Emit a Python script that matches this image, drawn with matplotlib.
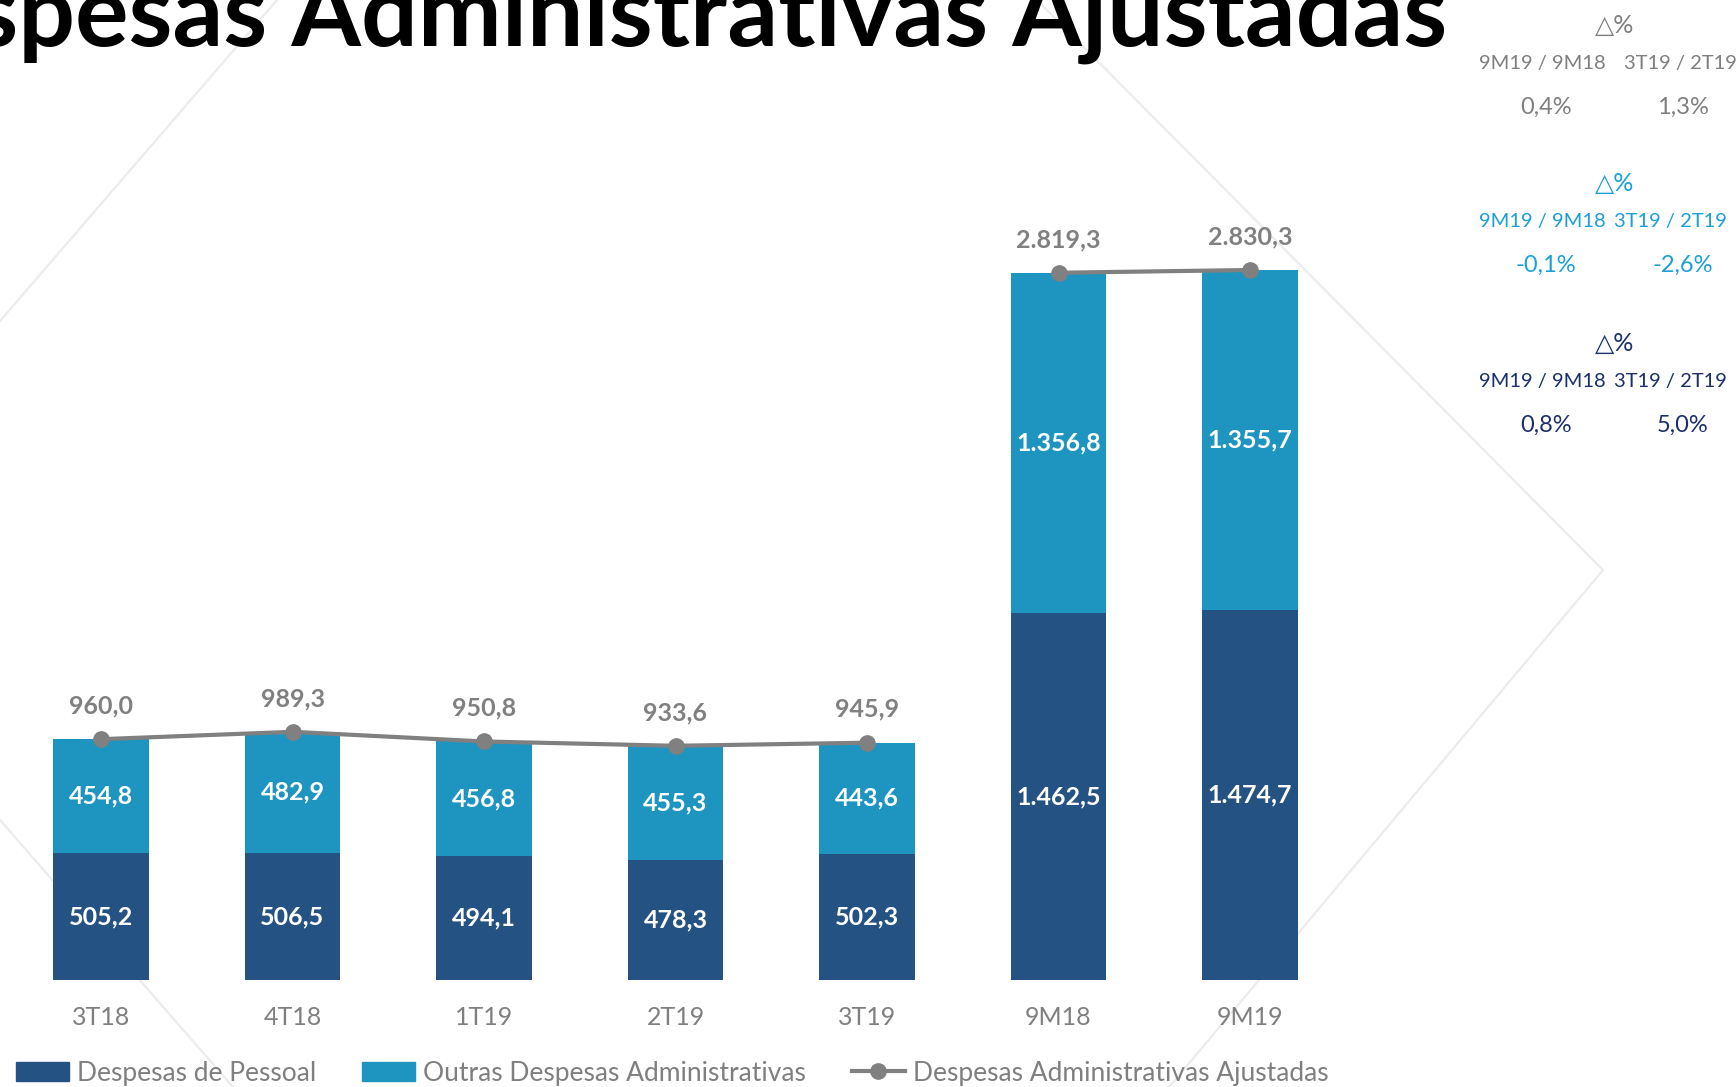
import matplotlib
matplotlib.use("Agg")
import matplotlib.pyplot as plt
from matplotlib.lines import Line2D
from matplotlib.patches import Patch
import numpy as np

W, H = 1736, 1087
DPI = 100

categories = ["3T18", "4T18", "1T19", "2T19", "3T19", "9M18", "9M19"]
pessoal = [505.2, 506.5, 494.1, 478.3, 502.3, 1462.5, 1474.7]
outras = [454.8, 482.9, 456.8, 455.3, 443.6, 1356.8, 1355.7]
ajustadas = [960.0, 989.3, 950.8, 933.6, 945.9, 2819.3, 2830.3]
n_quarters = 5  # line is broken between the quarters and the 9M totals

legend_labels = ["Despesas de Pessoal", "Outras Despesas Administrativas",
                 "Despesas Administrativas Ajustadas"]

# variation boxes on the right
var_cols = ["9M19 / 9M18", "3T19 / 2T19"]
var_total = ["0,4%", "1,3%"]
var_outras = ["-0,1%", "-2,6%"]
var_pessoal = ["0,8%", "5,0%"]

DARK = "#245383"
LIGHT = "#1e94c0"
GRAY = "#808080"
TXT_GRAY = "#7f7f7f"
CYAN_TXT = "#1a9fd9"
NAVY_TXT = "#1b2f6b"

plt.rcParams["font.family"] = ["Lato", "DejaVu Sans"]


def fmt(v):
    s = f"{v:,.1f}"
    return s.replace(",", "X").replace(".", ",").replace("X", ".")


def fx(x):
    return x / W


def fy(y):
    return 1 - y / H


fig = plt.figure(figsize=(W / DPI, H / DPI), dpi=DPI)
fig.patch.set_facecolor("white")

# faint decorative diamond lines in the background
deco = [
    [(0, 321), (277, 0)],
    [(0, 820), (233, 1087)],
    [(1037, 0), (1603, 570), (1108, 1160)],
]
for seg in deco:
    xs = [fx(p[0]) for p in seg]
    ys = [fy(p[1]) for p in seg]
    fig.add_artist(Line2D(xs, ys, transform=fig.transFigure,
                          color="#ececec", lw=1.6, zorder=0))

# axes placement: bar pitch 191.5 px, baseline at y=980 px
pitch = 191.5
left_px = 101 - pitch / 2
ymax = 3000
px_per_unit = 710 / 2830.3
ax_h_px = ymax * px_per_unit
ax = fig.add_axes([fx(left_px), fy(980), 7 * pitch / W, ax_h_px / H])
ax.set_facecolor("none")

x = np.arange(len(categories))
ax.bar(x, pessoal, width=0.5, color=DARK, zorder=2)
ax.bar(x, outras, width=0.5, bottom=pessoal, color=LIGHT, zorder=2)
ax.plot(x[:n_quarters], ajustadas[:n_quarters], color=GRAY, lw=3,
        marker="o", markersize=11, zorder=3)
ax.plot(x[n_quarters:], ajustadas[n_quarters:], color=GRAY, lw=3,
        marker="o", markersize=11, zorder=3)

for xi, p, o, t in zip(x, pessoal, outras, ajustadas):
    ax.text(xi, p / 2, fmt(p), ha="center", va="center", color="white",
            fontsize=18, fontweight="bold", zorder=4)
    ax.text(xi, p + o / 2, fmt(o), ha="center", va="center", color="white",
            fontsize=18, fontweight="bold", zorder=4)
    ax.annotate(fmt(t), (xi, t), xytext=(0, 24), textcoords="offset points",
                ha="center", va="center", color=GRAY, fontsize=18,
                fontweight="bold", zorder=4)

ax.set_xlim(-0.5, len(categories) - 0.5)
ax.set_ylim(0, ymax)
ax.set_xticks(x, categories)
ax.tick_params(axis="x", length=0, pad=19, labelsize=18, labelcolor=TXT_GRAY)
ax.set_yticks([])
for sp in ax.spines.values():
    sp.set_visible(False)

# title, partly cut off at the left and top edges like the slide
fig.text(fx(1447), fy(46), "Despesas Administrativas Ajustadas",
         ha="right", va="baseline", fontsize=72, fontweight="bold",
         color="black")

# variation blocks
blocks = [
    (25, var_total, TXT_GRAY, [1542, 1680]),
    (183, var_outras, CYAN_TXT, [1542, 1670]),
    (343, var_pessoal, NAVY_TXT, [1542, 1670]),
]
for y0, vals, col, cx in blocks:
    fig.text(fx(1615), fy(y0), "△%", ha="center", va="center",
             fontsize=18, color=col)
    for c, lab in zip(cx, var_cols):
        fig.text(fx(c), fy(y0 + 38), lab, ha="center", va="center",
                 fontsize=14.5, color=col)
    for c, v in zip([1546, 1683], vals):
        fig.text(fx(c), fy(y0 + 82), v, ha="center", va="center",
                 fontsize=17, color=col)

handles = [Patch(color=DARK), Patch(color=LIGHT),
           Line2D([], [], color=GRAY, lw=3, marker="o", markersize=11)]
fig.legend(handles, legend_labels, loc="center left",
           bbox_to_anchor=(fx(16), fy(1073)), ncol=3, frameon=False,
           fontsize=19, labelcolor=TXT_GRAY, handlelength=2.0,
           handleheight=0.7, handletextpad=0.3, columnspacing=1.75,
           borderpad=0, borderaxespad=0)

fig.savefig("out.png", dpi=DPI)
